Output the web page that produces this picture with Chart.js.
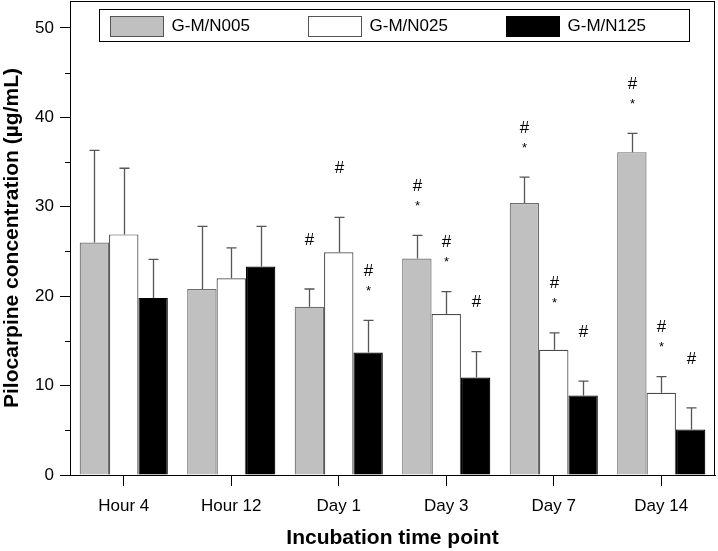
<!DOCTYPE html>
<html>
<head>
<meta charset="utf-8">
<script src="https://cdn.jsdelivr.net/npm/chart.js@4"></script>
<style>
  html, body { margin: 0; padding: 0; background: #fff; }
  #wrap { width: 718px; height: 551px; position: relative; }
</style>
</head>
<body>
<div id="wrap"><canvas id="c"></canvas></div>
<script>
// ── DATA ──
const categories = ['Hour 4', 'Hour 12', 'Day 1', 'Day 3', 'Day 7', 'Day 14'];
const seriesNames = ['G-M/N005', 'G-M/N025', 'G-M/N125'];

const n005 = [26.0, 20.8, 18.8, 24.2, 30.4, 36.1];
const n025 = [26.9, 22.0, 24.9, 18.0, 14.0, 9.2];
const n125 = [19.8, 23.3, 13.7, 10.9, 8.9, 5.1];

// upper end of the error bars
const n005Err = [36.3, 27.8, 20.8, 26.8, 33.3, 38.2];
const n025Err = [34.3, 25.4, 28.8, 20.5, 15.9, 11.0];
const n125Err = [24.1, 27.8, 17.3, 13.8, 10.5, 7.5];

// significance marks above each bar
const n005Marks = ['', '', '#', '#*', '#*', '#*'];
const n025Marks = ['', '', '#', '#*', '#*', '#*'];
const n125Marks = ['', '', '#*', '#', '#', '#'];

const yTicks = [0, 10, 20, 30, 40, 50];

// ── STYLE ──
const FONT = '"Liberation Sans", Arial, sans-serif';
Chart.defaults.font.family = FONT;
Chart.defaults.color = '#000';

const fills   = ['#c0c0c0', '#ffffff', '#000000'];
const borders = ['#6e6e6e', '#4a4a4a', '#000000'];

// ── PLUGINS ──
const framePlugin = {
  id: 'frame',
  afterDraw(chart) {
    const { ctx, chartArea: a, scales } = chart;
    ctx.save();
    ctx.strokeStyle = '#000';
    ctx.lineWidth = 1;
    ctx.strokeRect(a.left + 0.5, a.top + 0.5, a.right - a.left - 1, a.bottom - a.top);
    // minor y ticks
    const y = scales.y;
    for (let v = 5; v < 50; v += 10) {
      const py = Math.round(y.getPixelForValue(v)) + 0.5;
      ctx.beginPath();
      ctx.moveTo(a.left - 5, py);
      ctx.lineTo(a.left, py);
      ctx.stroke();
    }
    ctx.restore();
  }
};

const errorPlugin = {
  id: 'errs',
  afterDatasetsDraw(chart) {
    const { ctx, scales } = chart;
    const y = scales.y;
    ctx.save();
    chart.data.datasets.forEach((ds, di) => {
      const meta = chart.getDatasetMeta(di);
      meta.data.forEach((bar, i) => {
        const top = y.getPixelForValue(ds.errHigh[i]);
        const base = y.getPixelForValue(ds.data[i]);
        const x = Math.round(bar.x) + 0.5;
        ctx.strokeStyle = '#555';
        ctx.lineWidth = 1.3;
        ctx.beginPath();
        ctx.moveTo(x, base);
        ctx.lineTo(x, top);
        ctx.moveTo(x - 5, top);
        ctx.lineTo(x + 5, top);
        ctx.stroke();

        const m = ds.marks[i];
        ctx.fillStyle = '#000';
        ctx.textAlign = 'center';
        ctx.textBaseline = 'middle';
        if (m.includes('#')) {
          ctx.font = '17px ' + FONT;
          ctx.fillText('#', x, top - 49);
        }
        if (m.includes('*')) {
          ctx.font = '13px ' + FONT;
          ctx.fillText('*', x, top - 29);
        }
      });
    });
    ctx.restore();
  }
};

const legendPlugin = {
  id: 'boxLegend',
  afterDraw(chart) {
    const { ctx, chartArea: a } = chart;
    const bx = a.left + 29.5, by = a.top + 8.5, bw = 590, bh = 32;
    ctx.save();
    ctx.fillStyle = '#fff';
    ctx.fillRect(bx, by, bw, bh);
    ctx.strokeStyle = '#000';
    ctx.lineWidth = 1;
    ctx.strokeRect(bx, by, bw, bh);
    const offs = [10, 208, 406];
    chart.data.datasets.forEach((ds, i) => {
      const sx = Math.round(bx + offs[i]) + 0.5;
      ctx.fillStyle = ds.backgroundColor;
      ctx.fillRect(sx, by + 7, 53, 20);
      ctx.strokeStyle = i === 2 ? '#000' : '#555';
      ctx.strokeRect(sx, by + 7, 53, 20);
      ctx.fillStyle = '#000';
      ctx.font = '17px ' + FONT;
      ctx.textAlign = 'left';
      ctx.textBaseline = 'middle';
      ctx.fillText(ds.label, sx + 61, by + 17);
    });
    ctx.restore();
  }
};

// ── CHART ──
const valueSets = [n005, n025, n125];
const errSets = [n005Err, n025Err, n125Err];
const markSets = [n005Marks, n025Marks, n125Marks];

new Chart(document.getElementById('c'), {
  type: 'bar',
  data: {
    labels: categories,
    datasets: seriesNames.map((name, i) => ({
      label: name,
      data: valueSets[i],
      errHigh: errSets[i],
      marks: markSets[i],
      backgroundColor: fills[i],
      borderColor: borders[i],
      borderWidth: 1.2,
      categoryPercentage: 0.82,
      barPercentage: 1.0,
    }))
  },
  options: {
    responsive: true,
    maintainAspectRatio: false,
    animation: false,
    layout: { padding: { top: 1, right: 3, left: 0, bottom: 0 } },
    plugins: {
      legend: { display: false },
      tooltip: { enabled: false },
    },
    scales: {
      x: {
        offset: true,
        grid: { display: true, drawOnChartArea: false, offset: false, tickLength: 11, tickColor: '#000' },
        border: { display: true, color: '#000', width: 1 },
        ticks: { font: { size: 17 }, padding: 10, color: '#000', maxRotation: 0 },
        title: {
          display: true, text: 'Incubation time point',
          font: { size: 21, weight: 'bold' }, padding: { top: 8, bottom: 0 }, color: '#000'
        },
        afterFit(s) { s.height = 76; s.paddingLeft = 0; s.paddingRight = 0; }
      },
      y: {
        min: 0, max: 53,
        afterBuildTicks(s) { s.ticks = yTicks.map(v => ({ value: v })); },
        grid: { display: true, drawOnChartArea: false, tickLength: 10, tickColor: '#000' },
        border: { display: true, color: '#000', width: 1 },
        ticks: { font: { size: 17 }, padding: 6, color: '#000' },
        title: {
          display: true, text: 'Pilocarpine concentration (µg/mL)',
          font: { size: 21, weight: 'bold' }, padding: { top: 0, bottom: 4 }, color: '#000'
        },
        afterFit(s) { s.width = 70; s.paddingTop = 0; s.paddingBottom = 0; }
      }
    }
  },
  plugins: [framePlugin, errorPlugin, legendPlugin]
});
</script>
</body>
</html>
